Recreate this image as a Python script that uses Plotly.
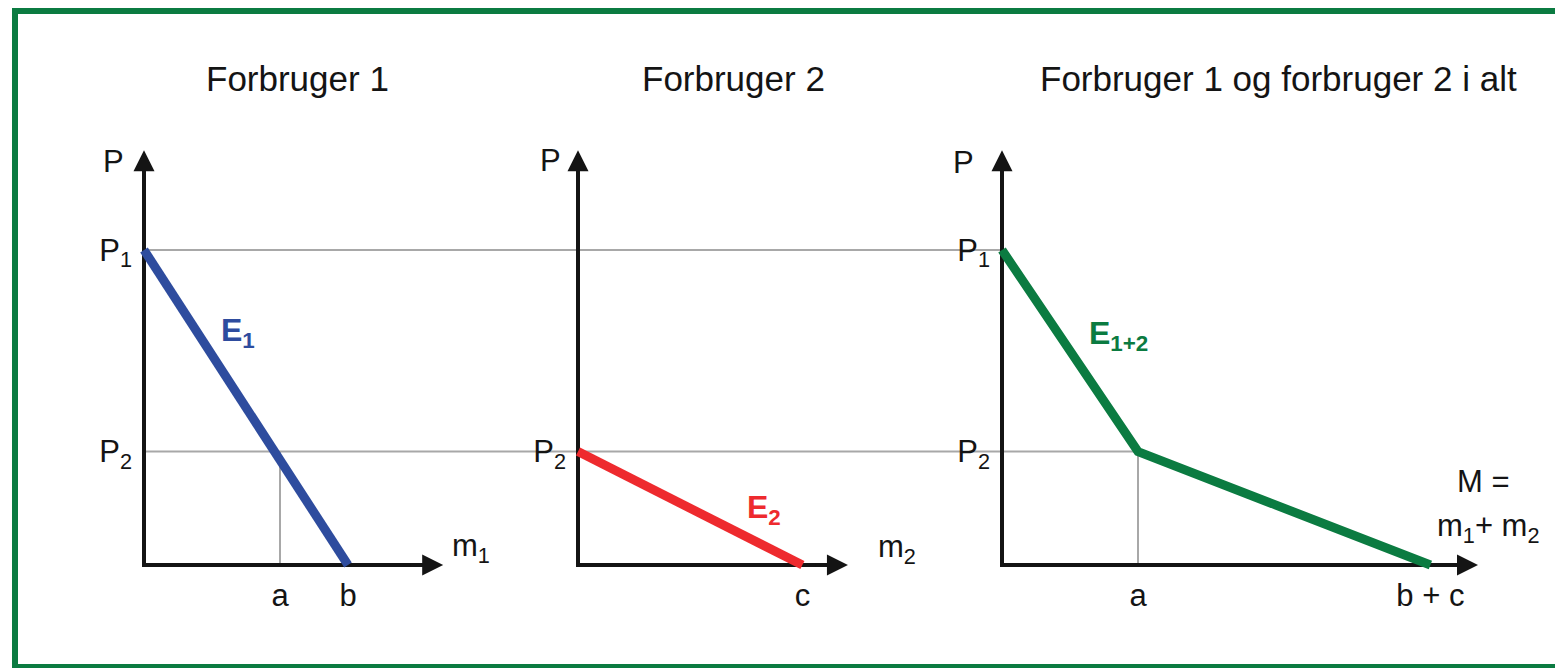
import plotly.graph_objects as go

# demand quantities (arbitrary units)
P1 = 10.0
P2 = 3.6
a = 4.0
b = 6.0
c = 6.6

e1_m = [0, b]
e1_p = [P1, 0]
e2_m = [0, c]
e2_p = [P2, 0]
e12_m = [0, a, b + c]
e12_p = [P1, P2, 0]

titles = ["Forbruger 1", "Forbruger 2", "Forbruger 1 og forbruger 2 i alt"]
x_ticks = [[a, b], [c], [a, b + c]]
x_labels = [["a", "b"], ["c"], ["a", "b + c"]]
y_ticks = [[P1, P2], [P2], [P1, P2]]
y_labels = [["P<sub>1</sub>", "P<sub>2</sub>"], ["P<sub>2</sub>"], ["P<sub>1</sub>", "P<sub>2</sub>"]]
curve_names = ["E<sub>1</sub>", "E<sub>2</sub>", "E<sub>1+2</sub>"]

# page geometry in pixels (page body has an 8px margin)
W, H = 1563, 668
OFF = 8
ORIGIN_Y = 565
PX_M = 34.0
PX_P = 31.5
PAD = 5
panel_x0 = [144, 578, 1002]
panel_x1 = [578 - PAD, 1002 - PAD, W + OFF]
axis_len_m = [8.8, 7.94, 14.0]
axis_len_p = 13.17
P_TOP = 14.0

BLACK = "#141414"
GREY = "#a8a8a8"
BLUE = "#2e4c9e"
RED = "#ee2a2e"
GREEN = "#0b7b41"
FONT = "Arial, Liberation Sans, sans-serif"


def fx(px):
    return (px - OFF) / W


def fy(py):
    return 1 - (py - OFF) / H


fig = go.Figure()
annotations = []

curves = [(e1_m, e1_p, BLUE), (e2_m, e2_p, RED), (e12_m, e12_p, GREEN)]

for i in range(3):
    sx = "" if i == 0 else str(i + 1)
    xa, ya = "x" + sx, "y" + sx
    lo = -PAD / PX_M
    hi = (panel_x1[i] - panel_x0[i]) / PX_M

    # grey guide lines
    if i == 0:
        gx = [0, hi, None, 0, hi, None, a, a]
        gy = [P1, P1, None, P2, P2, None, 0, P2]
    elif i == 1:
        gx = [lo, hi, None, lo, hi]
        gy = [P1, P1, None, P2, P2]
    else:
        gx = [lo, 0, None, lo, a, None, a, a]
        gy = [P1, P1, None, P2, P2, None, 0, P2]
    fig.add_trace(go.Scatter(x=gx, y=gy, xaxis=xa, yaxis=ya, mode="lines",
                             line=dict(color=GREY, width=2), hoverinfo="skip"))

    # axes, arrow heads drawn as annotations
    tip_m = axis_len_m[i]
    tip_p = axis_len_p
    fig.add_trace(go.Scatter(x=[tip_m - 12 / PX_M, 0, 0], y=[0, 0, tip_p - 12 / PX_P],
                             xaxis=xa, yaxis=ya, mode="lines",
                             line=dict(color=BLACK, width=4), hoverinfo="skip"))
    for hx, hy, tx, ty in ((tip_m, 0, tip_m - 1, 0), (0, tip_p, 0, tip_p - 1)):
        annotations.append(dict(x=hx, y=hy, ax=tx, ay=ty, xref=xa, yref=ya,
                                axref=xa, ayref=ya, text="", showarrow=True,
                                arrowhead=2, arrowsize=1.05, arrowwidth=4,
                                arrowcolor=BLACK))

    cm, cp, col = curves[i]
    fig.add_trace(go.Scatter(x=cm, y=cp, xaxis=xa, yaxis=ya, mode="lines",
                             line=dict(color=col, width=9), hoverinfo="skip"))

    fig.update_layout({
        "xaxis" + sx: dict(
            domain=[fx(panel_x0[i] - PAD), min(1, fx(panel_x1[i]))],
            range=[lo, lo + (min(W + OFF, panel_x1[i]) - panel_x0[i] + PAD) / PX_M],
            anchor=ya, showgrid=False, zeroline=False, showline=False, ticks="",
            tickvals=x_ticks[i], ticktext=x_labels[i], ticklabelstandoff=4,
            tickfont=dict(size=31, color=BLACK, family=FONT), fixedrange=True),
        "yaxis" + sx: dict(
            domain=[fy(ORIGIN_Y + PAD), fy(ORIGIN_Y - P_TOP * PX_P)],
            range=[-PAD / PX_P, P_TOP], anchor=xa,
            showgrid=False, zeroline=False, showline=False, ticks="",
            tickvals=y_ticks[i], ticktext=y_labels[i], ticklabelstandoff=6,
            tickfont=dict(size=31, color=BLACK, family=FONT), fixedrange=True),
    })

# panel titles
for t, cx in zip(titles, [297, 733, 1278]):
    annotations.append(dict(text=t, x=fx(cx), y=fy(79), xref="paper", yref="paper",
                            xanchor="center", yanchor="middle",
                            showarrow=False, font=dict(size=35, color=BLACK)))

# axis names and curve names
texts = [
    ("P", 113, 161, BLACK, False),
    ("P", 550, 160, BLACK, False),
    ("P", 963, 162, BLACK, False),
    ("m<sub>1</sub>", 471, 548, BLACK, False),
    ("m<sub>2</sub>", 897, 549, BLACK, False),
    ("M =", 1483, 481, BLACK, False),
    ("m<sub>1</sub>+ m<sub>2</sub>", 1488, 528, BLACK, False),
    (curve_names[0], 238, 333, BLUE, True),
    (curve_names[1], 764, 509, RED, True),
    (curve_names[2], 1118, 335, GREEN, True),
]
for t, px, py, col, bold in texts:
    annotations.append(dict(text="<b>" + t + "</b>" if bold else t,
                            x=fx(px), y=fy(py), xref="paper", yref="paper",
                            xanchor="center", yanchor="middle", showarrow=False,
                            font=dict(size=32 if bold else 31, color=col)))

fig.update_layout(
    width=W, height=H,
    margin=dict(l=0, r=0, t=0, b=0),
    paper_bgcolor="white", plot_bgcolor="rgba(0,0,0,0)",
    showlegend=False,
    font=dict(family=FONT, color=BLACK),
    annotations=annotations,
    shapes=[dict(type="rect", xref="paper", yref="paper",
                 x0=fx(15), x1=fx(W + 40), y0=fy(667), y1=fy(11),
                 line=dict(color=GREEN, width=6))],
)

fig.write_html("out.html")
